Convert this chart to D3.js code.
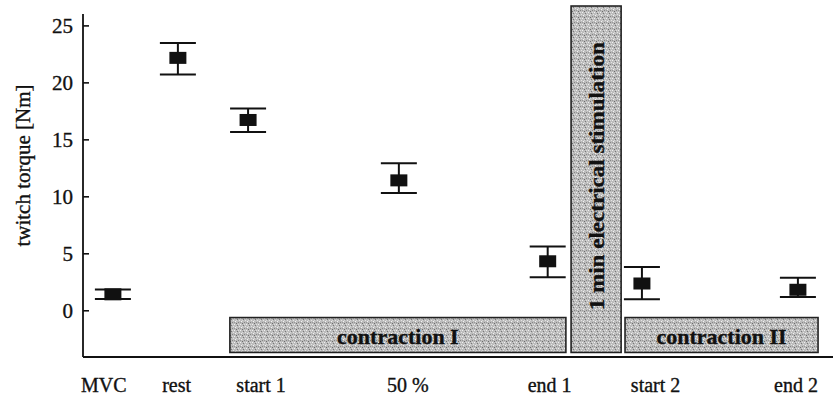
<!DOCTYPE html>
<html>
<head>
<meta charset="utf-8">
<script src="https://cdn.jsdelivr.net/npm/d3@7.9.0/dist/d3.min.js"></script>
<style>
  body { margin: 0; background: #fff; }
  svg text { font-family: "Liberation Serif", "DejaVu Serif", serif; fill: #111; stroke: #111; stroke-width: 0.35px; }
</style>
</head>
<body>
<svg id="chart" width="833" height="397"></svg>
<script>
// measurement stages along the protocol (stage units), with labels
const stages = ['MVC', 'rest', 'start 1', '50 %', 'end 1', 'start 2', 'end 2'];
const stageAt = [0, 1, 2.08, 4.4, 6.69, 8.14, 10.54];
const labelAt = [-0.14, 0.98, 2.28, 4.54, 6.72, 8.35, 10.51];

// twitch torque [Nm]: mean and error bar limits
const torque = [1.4, 22.15, 16.7, 11.4, 4.3, 2.35, 1.8];
const errLow = [1.0, 20.7, 15.65, 10.3, 2.9, 0.97, 1.17];
const errHigh = [1.82, 23.45, 17.7, 12.9, 5.6, 3.8, 2.85];

const yTicks = [0, 5, 10, 15, 20, 25];

// protocol phases drawn as shaded boxes: [from, to] stage, [bottom, top] torque
const phases = [
  { label: 'contraction I', x0: 1.8, x1: 6.97, y0: -3.7, y1: -0.64, vertical: false },
  { label: '1 min electrical stimulation', x0: 7.05, x1: 7.82, y0: -3.7, y1: 26.7, vertical: true },
  { label: 'contraction II', x0: 7.88, x1: 10.85, y0: -3.7, y1: -0.64, vertical: false }
];

const svg = d3.select('#chart');
const mLeft = 83, mRight = 833, mTop = 14, mBottom = 357;

const x = d3.scaleLinear().domain([-0.46, 11.08]).range([mLeft, mRight]);
const y = d3.scaleLinear().domain([-4.1, 26]).range([mBottom, mTop]);

// speckled grey fill for the phase boxes
const defs = svg.append('defs');
const pat = defs.append('pattern')
  .attr('id', 'speckle')
  .attr('width', 6).attr('height', 6)
  .attr('patternUnits', 'userSpaceOnUse');
pat.append('rect').attr('width', 6).attr('height', 6).attr('fill', '#bcbcbc');
const dots = [[0, 0, '#f0f0f0'], [3, 1, '#777'], [1, 3, '#f4f4f4'], [4, 4, '#858585'],
              [5, 2, '#e4e4e4'], [2, 5, '#6c6c6c'], [0, 4, '#999'], [4, 0, '#ddd'], [2, 2, '#d8d8d8']];
dots.forEach(([dx, dy, c]) => {
  pat.append('rect').attr('x', dx).attr('y', dy).attr('width', 1).attr('height', 1).attr('fill', c);
});

const boxes = svg.append('g');
boxes.selectAll('rect')
  .data(phases)
  .join('rect')
  .attr('x', d => x(d.x0))
  .attr('y', d => y(d.y1))
  .attr('width', d => x(d.x1) - x(d.x0))
  .attr('height', d => y(d.y0) - y(d.y1))
  .attr('fill', 'url(#speckle)')
  .attr('stroke', '#222')
  .attr('stroke-width', 1.6);

boxes.selectAll('text')
  .data(phases)
  .join('text')
  .attr('font-weight', 'bold')
  .attr('font-size', d => d.vertical ? 22 : 22)
  .attr('text-anchor', 'middle')
  .attr('dominant-baseline', 'central')
  .attr('transform', d => {
    const cx = (x(d.x0) + x(d.x1)) / 2;
    const cy = (y(d.y0) + y(d.y1)) / 2;
    return d.vertical ? `translate(${cx},${cy - 3}) rotate(-90)` : `translate(${cx},${cy + 1})`;
  })
  .attr('textLength', d => d.vertical ? 268 : null)
  .attr('lengthAdjust', 'spacingAndGlyphs')
  .text(d => d.label);

// y axis, ticks pointing inward
const yAxis = svg.append('g')
  .attr('transform', `translate(${mLeft},0)`)
  .call(d3.axisLeft(y).tickValues(yTicks).tickSizeInner(-6).tickSizeOuter(0).tickPadding(10));
yAxis.select('.domain').attr('d', `M0,${mTop}V${mBottom}`).attr('stroke', '#111').attr('stroke-width', 1.8);
yAxis.selectAll('.tick line').attr('stroke', '#111').attr('stroke-width', 1.6);
yAxis.selectAll('.tick text').attr('font-size', 21).attr('font-family', null).attr('dy', '0.34em');

// x axis line and stage labels
svg.append('line')
  .attr('x1', mLeft).attr('x2', mRight)
  .attr('y1', mBottom).attr('y2', mBottom)
  .attr('stroke', '#111').attr('stroke-width', 1.8);

svg.append('g').selectAll('text')
  .data(stages)
  .join('text')
  .attr('x', (d, i) => x(labelAt[i]))
  .attr('y', 392)
  .attr('text-anchor', 'middle')
  .attr('font-size', 20)
  .text(d => d);

// y axis title
svg.append('text')
  .attr('transform', `translate(30,${(mTop + mBottom) / 2 - 20}) rotate(-90)`)
  .attr('text-anchor', 'middle')
  .attr('font-size', 21)
  .text('twitch torque [Nm]');

// error bars and mean markers
const pts = stages.map((s, i) => ({ s, at: stageAt[i], v: torque[i], lo: errLow[i], hi: errHigh[i] }));
const marks = svg.append('g').attr('stroke', '#111').attr('stroke-width', 2);
const cap = 18;

marks.selectAll('.stem')
  .data(pts).join('line').attr('class', 'stem')
  .attr('x1', d => x(d.at)).attr('x2', d => x(d.at))
  .attr('y1', d => y(d.hi)).attr('y2', d => y(d.lo));

marks.selectAll('.capHi')
  .data(pts).join('line').attr('class', 'capHi')
  .attr('x1', d => x(d.at) - cap).attr('x2', d => x(d.at) + cap)
  .attr('y1', d => y(d.hi)).attr('y2', d => y(d.hi));

marks.selectAll('.capLo')
  .data(pts).join('line').attr('class', 'capLo')
  .attr('x1', d => x(d.at) - cap).attr('x2', d => x(d.at) + cap)
  .attr('y1', d => y(d.lo)).attr('y2', d => y(d.lo));

svg.append('g').selectAll('rect')
  .data(pts).join('rect')
  .attr('x', d => x(d.at) - 8.5)
  .attr('y', d => y(d.v) - 6)
  .attr('width', 17)
  .attr('height', 12)
  .attr('fill', '#111');
</script>
</body>
</html>
